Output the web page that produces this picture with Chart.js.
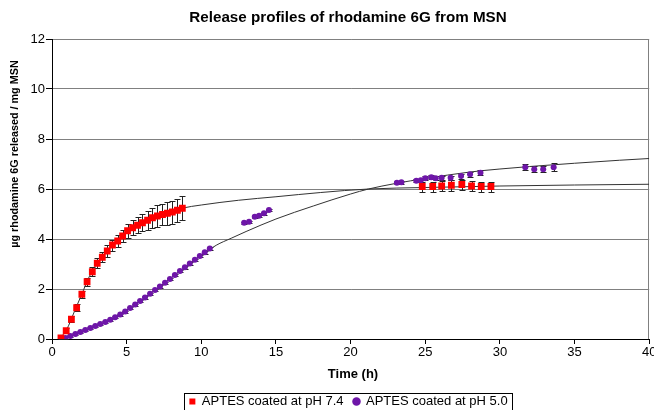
<!DOCTYPE html>
<html><head><meta charset="utf-8">
<script src="https://cdn.jsdelivr.net/npm/chart.js@4.4.1/dist/chart.umd.min.js"></script>
<style>html,body{margin:0;padding:0;background:#fff}#wrap{width:654px;height:410px;position:relative}canvas{display:block}</style>
</head><body><div id="wrap"><canvas id="c" width="654" height="410"></canvas></div>
<script>
// ---- data ----
const chartTitle = 'Release profiles of rhodamine 6G from MSN';
const xTitle = 'Time (h)';
const yTitle = 'µg rhodamine 6G released / mg MSN';
const seriesLabels = ['APTES coated at pH 7.4', 'APTES coated at pH 5.0'];
const xTicks = [0, 5, 10, 15, 20, 25, 30, 35, 40];
const yTicks = [0, 2, 4, 6, 8, 10, 12];

const redTime  = [0.6,0.95,1.3,1.65,2.0,2.35,2.7,3.03,3.37,3.7,4.05,4.4,4.73,5.06,5.4,5.73,6.06,6.4,6.73,7.06,7.4,7.73,8.06,8.4,8.73,
                  24.8,25.5,26.1,26.75,27.45,28.1,28.75,29.4];
const redValue = [0.04,0.33,0.79,1.25,1.79,2.29,2.69,3.03,3.27,3.52,3.76,3.92,4.12,4.33,4.45,4.55,4.65,4.75,4.85,4.92,4.98,5.03,5.08,5.15,5.23,
                  6.1,6.1,6.12,6.15,6.18,6.12,6.1,6.1];
const redError = [0.05,0.1,0.12,0.14,0.15,0.17,0.18,0.2,0.2,0.22,0.22,0.25,0.26,0.28,0.3,0.32,0.35,0.38,0.4,0.42,0.44,0.45,0.46,0.47,0.48,
                  0.2,0.2,0.2,0.22,0.2,0.2,0.2,0.2];

const purpleTime  = [0.9,1.23,1.57,1.9,2.23,2.57,2.9,3.23,3.57,3.9,4.23,4.57,4.9,5.23,5.57,5.9,6.23,6.57,6.9,7.23,7.57,7.9,8.23,8.57,8.9,9.23,9.57,9.9,10.23,10.57,
                     12.87,13.2,13.58,13.87,14.2,14.53,
                     23.1,23.4,24.4,24.7,25.0,25.4,25.7,26.1,26.7,27.4,28.0,28.7,31.7,32.3,32.9,33.6];
const purpleValue = [0.04,0.12,0.2,0.28,0.36,0.44,0.52,0.6,0.68,0.77,0.87,0.98,1.1,1.24,1.38,1.52,1.66,1.81,1.96,2.1,2.25,2.4,2.56,2.72,2.87,3.02,3.17,3.32,3.47,3.62,
                     4.65,4.69,4.89,4.93,5.03,5.16,
                     6.25,6.27,6.33,6.35,6.43,6.47,6.43,6.45,6.45,6.52,6.59,6.65,6.87,6.79,6.79,6.87];
const purpleError = [0.03,0.03,0.03,0.03,0.03,0.03,0.03,0.03,0.03,0.04,0.04,0.04,0.04,0.04,0.04,0.05,0.05,0.05,0.05,0.05,0.05,0.05,0.05,0.05,0.05,0.05,0.05,0.05,0.05,0.05,
                     0.05,0.05,0.05,0.05,0.05,0.05,
                     0.06,0.06,0.06,0.06,0.08,0.08,0.08,0.08,0.08,0.1,0.1,0.1,0.12,0.12,0.12,0.15];

const redFitTime  = [0.5,1,1.5,2,2.5,3,3.5,4,4.5,5,6,7,8,8.7,10,12.5,15,18,21.2,25,30,35,40];
const redFitValue = [0,0.4,1.1,1.8,2.5,3.0,3.38,3.72,4.0,4.3,4.65,4.92,5.1,5.23,5.36,5.55,5.69,5.86,6.0,6.06,6.12,6.16,6.19];
const purpleFitTime  = [0.8,2,3,4,5,6,7,8,9,10,11,12,13,15,17.5,20,21.2,23,25,28,30,32,35,38,40];
const purpleFitValue = [0,0.28,0.52,0.8,1.17,1.56,2.0,2.45,2.92,3.34,3.75,4.03,4.3,4.8,5.32,5.8,6.0,6.22,6.42,6.68,6.8,6.9,7.03,7.15,7.22];

const pts = (T, V) => T.map((t, i) => ({x: t, y: V[i]}));
const FONT = '"Liberation Sans", Arial, sans-serif';

const errorBars = {
  id: 'errorBars',
  beforeDatasetsDraw(chart) {
    const {ctx, scales: {x, y}} = chart;
    ctx.save();
    ctx.strokeStyle = '#222'; ctx.lineWidth = 1;
    [[redTime, redValue, redError], [purpleTime, purpleValue, purpleError]].forEach(([T, V, E]) => {
      T.forEach((t, i) => {
        const px = Math.round(x.getPixelForValue(t)) + 0.5;
        const yt = Math.round(y.getPixelForValue(V[i] + E[i])) + 0.5;
        const yb = Math.round(y.getPixelForValue(V[i] - E[i])) + 0.5;
        ctx.beginPath();
        ctx.moveTo(px, yt); ctx.lineTo(px, yb);
        ctx.moveTo(px - 3, yt); ctx.lineTo(px + 3, yt);
        ctx.moveTo(px - 3, yb); ctx.lineTo(px + 3, yb);
        ctx.stroke();
      });
    });
    const a = chart.chartArea;
    ctx.strokeStyle = '#808080';
    ctx.beginPath(); ctx.moveTo(Math.round(a.right) - 0.5, a.top); ctx.lineTo(Math.round(a.right) - 0.5, a.bottom); ctx.stroke();
    ctx.restore();
  }
};

const texts = {
  id: 'texts',
  afterLayout(chart) {
    const lg = chart.legend;
    const h = lg.height;
    lg.left = 45; lg.right = 652; lg.width = 607;
    lg.top = 385; lg.bottom = 385 + h;
  },
  afterDraw(chart) {
    const {ctx} = chart;
    ctx.save();
    ctx.fillStyle = '#000';
    ctx.textAlign = 'center'; ctx.textBaseline = 'middle';
    ctx.font = 'bold 15.2px ' + FONT;
    ctx.fillText(chartTitle, 348, 18);
    ctx.font = 'bold 13px ' + FONT;
    ctx.fillText(xTitle, 353, 374);
    ctx.translate(15, 154); ctx.rotate(-Math.PI / 2);
    ctx.font = 'bold 10.8px ' + FONT;
    ctx.fillText(yTitle, 0, 0);
    ctx.restore();
    const hb = chart.legend.legendHitBoxes;
    if (hb && hb.length) {
      const l = Math.min(...hb.map(b => b.left)) - 5;
      const r = Math.max(...hb.map(b => b.left + b.width)) + 5;
      ctx.save(); ctx.strokeStyle = '#000'; ctx.lineWidth = 1;
      ctx.strokeRect(Math.round(l) + 0.5, 393.5, Math.round(r - l), 17);
      ctx.restore();
    }
  }
};

new Chart(document.getElementById('c'), {
  type: 'scatter',
  data: {
    datasets: [
      {label: seriesLabels[0], data: pts(redTime, redValue), pointStyle: 'rect', pointRadius: 4.8,
       backgroundColor: '#ff0000', borderWidth: 0, showLine: false},
      {label: seriesLabels[1], data: pts(purpleTime, purpleValue), pointStyle: 'circle', pointRadius: 3,
       backgroundColor: '#6e16a8', borderWidth: 0, showLine: false},
      {label: 'fit 7.4', type: 'line', data: pts(redFitTime, redFitValue), borderColor: '#333', borderWidth: 1,
       pointRadius: 0, cubicInterpolationMode: 'monotone', fill: false},
      {label: 'fit 5.0', type: 'line', data: pts(purpleFitTime, purpleFitValue), borderColor: '#333', borderWidth: 1,
       pointRadius: 0, cubicInterpolationMode: 'monotone', fill: false}
    ]
  },
  options: {
    responsive: false, animation: false, devicePixelRatio: 1,
    layout: {padding: {left: 0, top: 39, right: 2, bottom: 0}},
    plugins: {
      title: {display: false}, tooltip: {enabled: false},
      legend: {
        display: true, position: 'bottom',
        labels: {
          font: {family: FONT, size: 13}, color: '#000', usePointStyle: true, boxWidth: 6, boxHeight: 6, padding: 10,
          filter: item => item.datasetIndex < 2
        }
      }
    },
    scales: {
      x: {
        type: 'linear', min: 0, max: 40,
        afterBuildTicks: s => { s.ticks = xTicks.map(v => ({value: v})); },
        afterFit: s => { s.height = 410 - 339 - s.chart.legend.height; s.paddingLeft = 0; s.paddingRight = 0; },
        grid: {drawOnChartArea: false, drawTicks: true, tickLength: 5, tickColor: '#000'},
        border: {color: '#000', width: 1},
        ticks: {font: {family: FONT, size: 13}, color: '#000', padding: 1, maxRotation: 0}
      },
      y: {
        type: 'linear', min: 0, max: 12,
        afterBuildTicks: s => { s.ticks = yTicks.map(v => ({value: v})); },
        afterFit: s => { s.width = 52; s.paddingTop = 0; s.paddingBottom = 0; },
        grid: {color: '#808080', lineWidth: 1, drawTicks: true, tickLength: 6, tickColor: '#000'},
        border: {color: '#000', width: 1},
        ticks: {font: {family: FONT, size: 13}, color: '#000', padding: 1}
      }
    }
  },
  plugins: [errorBars, texts]
});
</script>
</body></html>
